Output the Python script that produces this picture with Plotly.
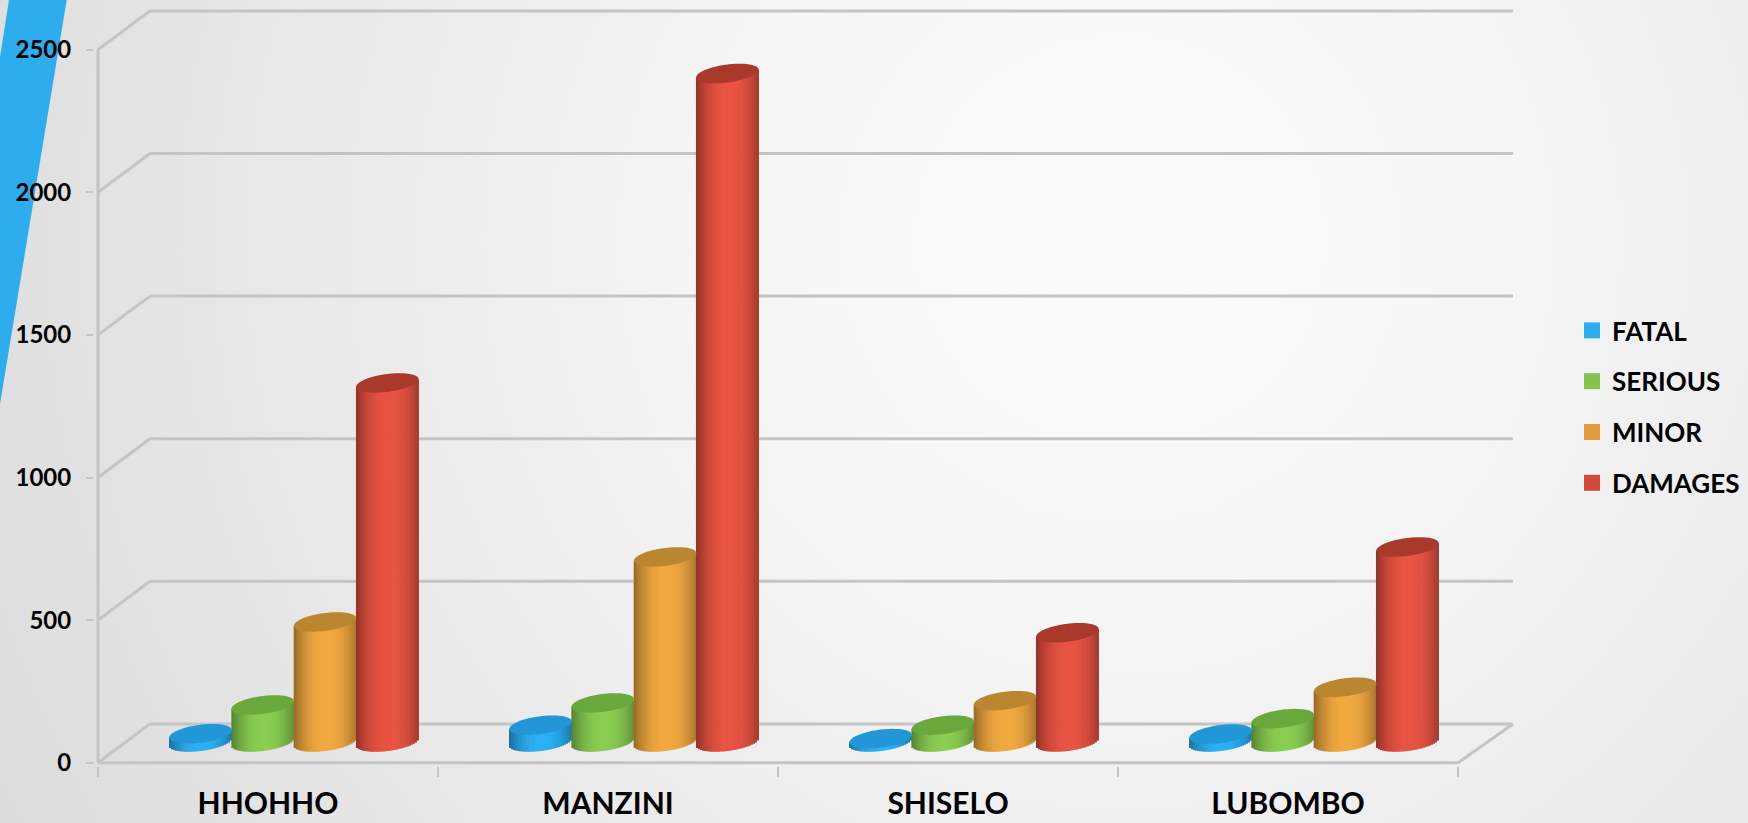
import math
import urllib.parse
import plotly.graph_objects as go

# ---------- data ----------
categories = ["HHOHHO", "MANZINI", "SHISELO", "LUBOMBO"]
series_names = ["FATAL", "SERIOUS", "MINOR", "DAMAGES"]
fatal = [29, 59, 12, 28]
serious = [130, 137, 59, 82]
minor = [421, 649, 145, 192]
damages = [1259, 2344, 383, 684]
y_ticks = [0, 500, 1000, 1500, 2000, 2500]

# ---------- styles ----------
series_values = [fatal, serious, minor, damages]
body_colors = [(41, 176, 245), (138, 207, 82), (242, 170, 64), (233, 82, 64)]
cap_colors = ["#2197d8", "#69a83a", "#bb8630", "#a93a2b"]
legend_colors = ["#2EADEE", "#82C54C", "#E09C3C", "#D5493A"]
GRID = "#c4c4c4"
FONT = "Lato"

W, H = 1748, 823
PLOT_L, PLOT_B = 94, 766
X0_PX, Y0_PX = 98, 762.7
PX_PER_CAT = 340.0
PX_PER_UNIT = 0.2852

DEPTH_Y = 136.0             # value units of wall depth
DEPTH_XL = 52 / PX_PER_CAT
DEPTH_XR = 55 / PX_PER_CAT
BASE_Y = (Y0_PX - 742) / PX_PER_UNIT
GROUP_SHIFT = 26 / PX_PER_CAT
SPACING = 62.3 / PX_PER_CAT
A = 31.2 / PX_PER_CAT       # ellipse half-width
B = 9.0 / PX_PER_UNIT       # ellipse half-height
K = 3.8 / PX_PER_UNIT       # ellipse tilt
N_STRIPS = 31

fig = go.Figure()


def shade(rgb, u):
    f = 1 - 0.38 * abs((u - 0.05) / 1.05) ** 2.2
    return "rgb(%d,%d,%d)" % tuple(int(c * f) for c in rgb)


# cylinder bodies: one thin bar trace per vertical strip
for s, values in enumerate(series_values):
    centers = [c + 0.5 + GROUP_SHIFT + (s - 1.5) * SPACING for c in range(len(categories))]
    for i in range(N_STRIPS):
        u = -1 + (2 * i + 1) / N_STRIPS
        low = BASE_Y + K * u - B * math.sqrt(1 - u * u)
        fig.add_trace(go.Bar(
            x=[c + u * A for c in centers],
            y=[v + BASE_Y + K * u - low for v in values],
            base=[low] * len(values),
            width=2 * A / N_STRIPS * 1.3,
            marker=dict(color=shade(body_colors[s], u), line=dict(width=0)),
            showlegend=False,
            hoverinfo="skip",
        ))

# legend entries
for name, col in zip(series_names, legend_colors):
    fig.add_trace(go.Scatter(
        x=[None], y=[None], mode="markers", name=name, legendgroup=name,
        marker=dict(symbol="square", size=16, color=col),
    ))

shapes = []


def line(x0, y0, x1, y1, width=3, color=GRID):
    shapes.append(dict(type="line", x0=x0, y0=y0, x1=x1, y1=y1, xref="x", yref="y",
                       layer="below", line=dict(color=color, width=width)))


x_end = float(len(categories))
for v in y_ticks:
    line(0, v, DEPTH_XL, v + DEPTH_Y)
    line(DEPTH_XL, v + DEPTH_Y, x_end + DEPTH_XR, v + DEPTH_Y)
line(0, 0, 0, y_ticks[-1])
line(0, 0, x_end, 0)
line(x_end, 0, x_end + DEPTH_XR, DEPTH_Y)

# cylinder caps
for s, values in enumerate(series_values):
    for c, v in enumerate(values):
        xc = c + 0.5 + GROUP_SHIFT + (s - 1.5) * SPACING
        yc = v + BASE_Y
        pts = []
        for j in range(48):
            t = 2 * math.pi * j / 48
            pts.append("%.5f,%.2f" % (xc + A * math.cos(t),
                                      yc + K * math.cos(t) + B * math.sin(t)))
        shapes.append(dict(type="path", path="M" + " L".join(pts) + " Z", xref="x", yref="y",
                           layer="above", fillcolor=cap_colors[s], line=dict(width=0)))

# slide background: soft radial gradient plus the blue band at top left
svg = f'''<svg xmlns="http://www.w3.org/2000/svg" width="{W}" height="{H}" viewBox="0 0 {W} {H}">
<defs><radialGradient id="g" gradientUnits="userSpaceOnUse" cx="1120" cy="240" r="1250">
<stop offset="0" stop-color="#fbfbfb"/><stop offset="0.3" stop-color="#f6f6f6"/>
<stop offset="1" stop-color="#dcdcdc"/></radialGradient></defs>
<rect width="{W}" height="{H}" fill="url(#g)"/>
<polygon points="9,0 66.7,0 0,404 0,57" fill="#2EADEE"/></svg>'''
plot_w = W - PLOT_L
fig.add_layout_image(dict(
    source="data:image/svg+xml," + urllib.parse.quote(svg),
    xref="paper", yref="paper", x=-PLOT_L / plot_w, y=1,
    sizex=W / plot_w, sizey=H / PLOT_B, xanchor="left", yanchor="top",
    sizing="stretch", layer="below",
))

fig.update_layout(
    width=W, height=H,
    margin=dict(l=PLOT_L, r=0, t=0, b=H - PLOT_B, autoexpand=False, pad=0),
    paper_bgcolor="rgba(0,0,0,0)", plot_bgcolor="rgba(0,0,0,0)",
    barmode="overlay",
    shapes=shapes,
    hovermode=False,
    showlegend=True,
    legend=dict(x=(1572 - PLOT_L) / plot_w, y=1 - 407 / PLOT_B, xanchor="left", yanchor="middle",
                font=dict(family=FONT, size=26, color="#000000", weight=700),
                tracegroupgap=14, bgcolor="rgba(0,0,0,0)", traceorder="grouped"),
    xaxis=dict(
        range=[(PLOT_L - X0_PX) / PX_PER_CAT, (W - X0_PX) / PX_PER_CAT],
        tickmode="array",
        tickvals=[c + 0.5 for c in range(len(categories))],
        ticktext=categories,
        ticks="", showgrid=False, zeroline=False, showline=False,
        tickfont=dict(family=FONT, size=30, color="#000000", weight=700),
        ticklabelstandoff=17,
        minor=dict(tickmode="array", tickvals=list(range(len(categories) + 1)),
                   ticks="outside", ticklen=10, tickwidth=2, tickcolor=GRID, showgrid=False),
        automargin=False,
    ),
    yaxis=dict(
        range=[(Y0_PX - PLOT_B) / PX_PER_UNIT, Y0_PX / PX_PER_UNIT],
        tickmode="array", tickvals=y_ticks, ticktext=[str(v) for v in y_ticks],
        ticks="outside", ticklen=7, tickwidth=2, tickcolor=GRID,
        showgrid=False, zeroline=False, showline=False,
        tickfont=dict(family=FONT, size=24, color="#000000", weight=700),
        ticklabelstandoff=10,
        automargin=False,
    ),
)

fig.write_html("out.html", config={"displayModeBar": False},
               post_script="document.body.style.margin='0';document.body.style.overflow='hidden';")
